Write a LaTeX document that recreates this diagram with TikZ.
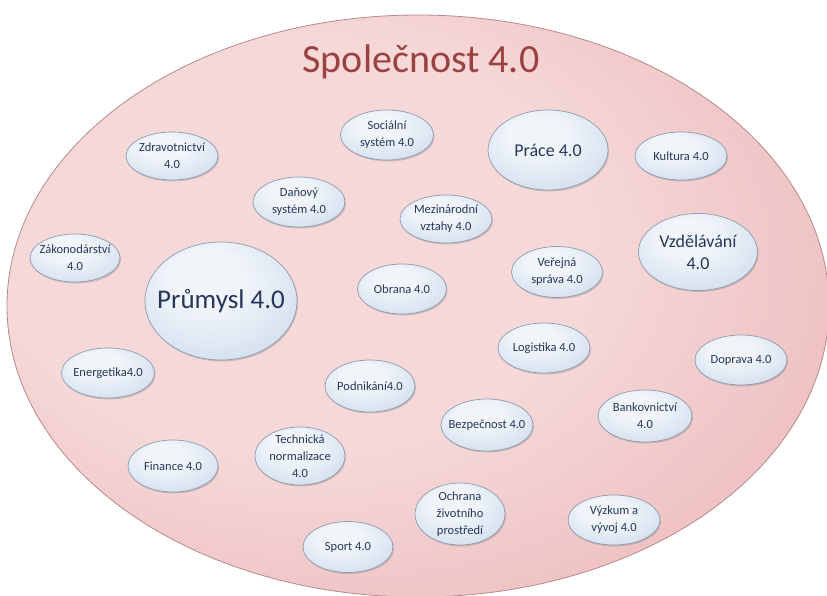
\documentclass[tikz,border=0pt]{standalone}
\usepackage{fontspec}
\setmainfont{Carlito}
\usetikzlibrary{shapes.geometric,shadows}
\definecolor{pinkhi}{HTML}{F6D8D8}
\definecolor{pinklo}{HTML}{E3A0A3}
\definecolor{pinkedge}{HTML}{B58A8C}
\definecolor{titlered}{HTML}{9A4241}
\definecolor{bubhi}{HTML}{F1F5FA}
\definecolor{bubmid}{HTML}{D4E0EF}
\definecolor{bublo}{HTML}{A5BCD9}
\definecolor{bubedge}{HTML}{8E9BAE}
\definecolor{bubtext}{HTML}{26375A}
\pgfdeclareradialshading{bigshade}{\pgfpoint{-12bp}{8bp}}{color(0bp)=(pinkhi); color(18bp)=(pinkhi); color(50bp)=(pinklo)}
\pgfdeclareradialshading{bubshade}{\pgfpoint{-6bp}{12bp}}{color(0bp)=(bubhi); color(12bp)=(bubhi); color(32bp)=(bubmid); color(52bp)=(bublo)}
\tikzset{
  bubble/.style 2 args={ellipse, inner sep=0pt, minimum width=#1pt, minimum height=#2pt,
    shading=bubshade, draw=bubedge, line width=0.7pt,
    drop shadow={shadow xshift=1pt, shadow yshift=-1.5pt, opacity=0.35}},
  txt/.style={align=center, text=bubtext, font=\fontsize{12.5}{17}\selectfont},
  bigtxt/.style={align=center, text=bubtext, font=\fontsize{18}{22}\selectfont}
}

\begin{document}
\begin{tikzpicture}[x=1pt,y=-1pt]
\useasboundingbox (0,0) rectangle (827,596);

% the society
\shade[shading=bigshade, draw=pinkedge, line width=0.8pt] (418,306) ellipse [x radius=411, y radius=291];
\node[anchor=base, text=titlered, font=\fontsize{40}{48}\selectfont] (title) at (421,73) {Společnost 4.0};

% bubbles
\node[bubble={92}{48}] (zdrav) at (172,156) {};
\node[txt] at (zdrav) {Zdravotnictví\\4.0};
\node[bubble={90}{48}] (zakon) at (75,258) {};
\node[txt] at (zakon) {Zákonodárství\\4.0};
\node[bubble={152}{118}] (prumysl) at (221,301) {};
\node[txt, font=\fontsize{27}{32}\selectfont] at (prumysl) {Průmysl 4.0};
\node[bubble={93}{50}] (social) at (387,135) {};
\node[txt] at (social) {Sociální\\systém 4.0};
\node[bubble={92}{50}] (dane) at (299,202) {};
\node[txt] at (dane) {Daňový\\systém 4.0};
\node[bubble={92}{48}] (mezinar) at (446,219) {};
\node[txt] at (mezinar) {Mezinárodní\\vztahy 4.0};
\node[bubble={89}{50}] (obrana) at (402,289) {};
\node[txt] at (obrana) {Obrana 4.0};
\node[bubble={120}{80}] (prace) at (548,150) {};
\node[bigtxt] at (prace) {Práce 4.0};
\node[bubble={92}{48}] (kultura) at (681,156) {};
\node[txt] at (kultura) {Kultura 4.0};
\node[bubble={119}{77}] (vzdel) at (698,252) {};
\node[bigtxt] at (vzdel) {Vzdělávání\\4.0};
\node[bubble={91}{51}] (sprava) at (557,272) {};
\node[txt] at (sprava) {Veřejná\\správa 4.0};
\node[bubble={93}{50}] (energ) at (108,373) {};
\node[txt] at (energ) {Energetika4.0};
\node[bubble={90}{52}] (finance) at (173,466) {};
\node[txt] at (finance) {Finance 4.0};
\node[bubble={90}{52}] (podnik) at (370,386) {};
\node[txt] at (podnik) {Podnikání4.0};
\node[bubble={90}{58}] (norma) at (300,456) {};
\node[txt] at (norma) {Technická\\normalizace\\4.0};
\node[bubble={92}{52}] (bezpec) at (487,425) {};
\node[txt] at (bezpec) {Bezpečnost 4.0};
\node[bubble={92}{50}] (logist) at (544,348) {};
\node[txt] at (logist) {Logistika 4.0};
\node[bubble={92}{50}] (doprava) at (741,360) {};
\node[txt] at (doprava) {Doprava 4.0};
\node[bubble={94}{52}] (banka) at (645,416) {};
\node[txt] at (banka) {Bankovnictví\\4.0};
\node[bubble={90}{62}] (zivot) at (460,514) {};
\node[txt] at (zivot) {Ochrana\\životního\\prostředí};
\node[bubble={92}{50}] (vyzkum) at (614,520) {};
\node[txt] at (vyzkum) {Výzkum a\\vývoj 4.0};
\node[bubble={90}{51}] (sport) at (348,547) {};
\node[txt] at (sport) {Sport 4.0};
\end{tikzpicture}
\end{document}
